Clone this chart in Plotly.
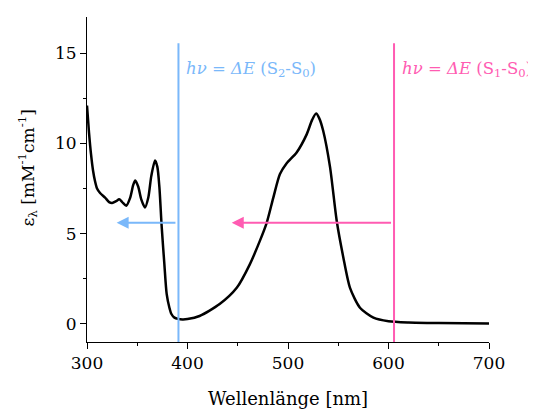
import plotly.graph_objects as go

# Absorption spectrum
wavelength = [300, 302, 304, 306, 308, 310, 313, 318, 322, 325, 329, 332, 335, 339,
              343, 346, 348, 351, 354, 357.7, 361, 364, 367.7, 370, 372, 374.3, 377,
              379.3, 382, 384, 387, 390.5, 395, 400, 412, 432, 449, 462, 472, 478.8,
              485.4, 492, 498.7, 508.6, 518.6, 524, 528, 531, 535, 541.8, 548.5, 555,
              561.7, 571.6, 585, 600, 620, 650, 700]
epsilon = [12.1, 10.6, 9.4, 8.5, 7.9, 7.5, 7.25, 7.0, 6.75, 6.7, 6.8, 6.9, 6.75, 6.55,
           7.0, 7.7, 7.95, 7.6, 6.9, 6.45, 7.0, 8.2, 9.05, 8.7, 7.6, 5.4, 3.3,
           1.65, 0.9, 0.55, 0.35, 0.28, 0.25, 0.27, 0.44, 1.1, 2.0, 3.3, 4.6, 5.6,
           7.0, 8.3, 8.9, 9.5, 10.5, 11.3, 11.65, 11.4, 10.7, 8.7, 5.7, 3.7,
           2.0, 0.9, 0.35, 0.15, 0.08, 0.05, 0.03]

# Transition markers
line_positions = [391, 605.5]
line_top = 15.55
line_colors = ["#7ab8fa", "#ff5cb2"]
arrow_y = 5.6
arrow_heads = [329.5, 444]
label_x = [397, 611.5]
label_y = 14.1
labels = ["<i>hν</i> = <i>ΔE</i> (S<sub>2</sub>-S<sub>0</sub>)",
          "<i>hν</i> = <i>ΔE</i> (S<sub>1</sub>-S<sub>0</sub>)"]

x_title = "Wellenlänge [nm]"
y_title = "ε<sub>λ</sub> [mM<sup>-1</sup>cm<sup>-1</sup>]"
x_ticks = [300, 400, 500, 600, 700]
y_ticks = [0, 5, 10, 15]
x_range = [300, 700]
y_range = [-1.0, 17.0]

FONT = "DejaVu Serif"

fig = go.Figure()
fig.add_trace(go.Scatter(x=wavelength, y=epsilon, mode="lines",
                         line=dict(color="black", width=2.5, shape="spline", smoothing=0.7),
                         showlegend=False, hoverinfo="skip"))

for xp, col in zip(line_positions, line_colors):
    fig.add_shape(type="line", x0=xp, x1=xp, y0=y_range[0], y1=line_top,
                  xref="x", yref="y", line=dict(color=col, width=2))

for xp, head, col, lx, txt in zip(line_positions, arrow_heads, line_colors, label_x, labels):
    fig.add_annotation(x=head, y=arrow_y, ax=xp - 1.5, ay=arrow_y, xref="x", yref="y",
                       axref="x", ayref="y", text="", showarrow=True,
                       arrowhead=2, arrowsize=1.2, arrowwidth=2, arrowcolor=col)
    fig.add_annotation(x=lx, y=label_y, xref="x", yref="y", text=txt, showarrow=False,
                       xanchor="left", yanchor="middle",
                       font=dict(family=FONT, size=16.5, color=col))

# axis titles
fig.add_annotation(x=0.5, y=0, xref="paper", yref="paper", text=x_title, showarrow=False,
                   xanchor="center", yanchor="middle", yshift=-56,
                   font=dict(family=FONT, size=18, color="black"))
fig.add_annotation(x=0, y=0.5, xref="paper", yref="paper", text=y_title, showarrow=False,
                   xanchor="center", yanchor="middle", xshift=-59, yshift=11, textangle=-90,
                   font=dict(family=FONT, size=17, color="black"))

fig.update_xaxes(range=x_range, tickvals=x_ticks, ticks="outside", ticklen=6,
                 tickwidth=1, tickcolor="black", showline=True, linecolor="black",
                 linewidth=1, showgrid=False, zeroline=False, automargin=False,
                 minor=dict(dtick=50, tick0=300, ticks="outside", ticklen=3, tickcolor="black"),
                 tickfont=dict(family=FONT, size=17, color="black"))
fig.update_yaxes(range=y_range, tickvals=y_ticks, ticks="outside", ticklen=6,
                 tickwidth=1, tickcolor="black", showline=True, linecolor="black",
                 linewidth=1, showgrid=False, zeroline=False, automargin=False,
                 minor=dict(dtick=2.5, tick0=0, ticks="outside", ticklen=3, tickcolor="black"),
                 tickfont=dict(family=FONT, size=17, color="black"))

# page adds an 8px body margin, so the figure is offset by 8px
fig.update_layout(width=528, height=401, margin=dict(l=79, r=47, t=9, b=67),
                  plot_bgcolor="white", paper_bgcolor="white")

fig.write_html("out.html")
